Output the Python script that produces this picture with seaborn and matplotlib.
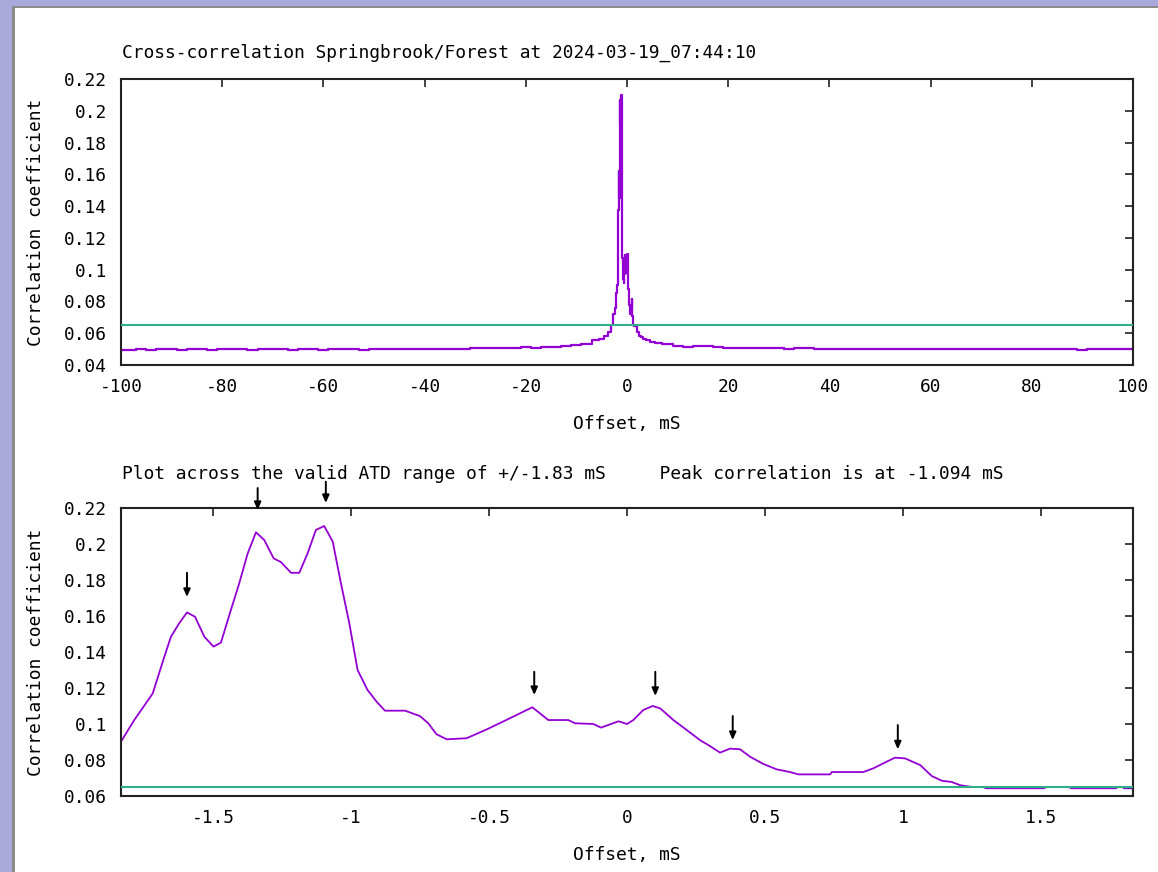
import numpy as np
import pandas as pd
import matplotlib
matplotlib.use("Agg")
import matplotlib.pyplot as plt
from matplotlib.patches import Rectangle
from matplotlib.ticker import FuncFormatter, MultipleLocator
import seaborn as sns

# ---- data ----
# zoomed plot across the valid ATD range (offset in ms, correlation)
atd_offset = [-1.833, -1.785, -1.718, -1.676, -1.652, -1.622, -1.594, -1.565, -1.531, -1.498,
              -1.471, -1.435, -1.405, -1.374, -1.344, -1.314, -1.28, -1.254, -1.217, -1.187,
              -1.157, -1.127, -1.097, -1.066, -1.036, -1.006, -0.976, -0.94,
              -0.907, -0.877, -0.804, -0.75, -0.72, -0.69, -0.653, -0.581, -0.508, -0.424,
              -0.343, -0.285, -0.213, -0.188, -0.122, -0.094, -0.031, 0.0,
              0.023, 0.059, 0.093, 0.12, 0.168, 0.216, 0.264, 0.30, 0.337, 0.373,
              0.409, 0.446, 0.494, 0.542, 0.591, 0.621, 0.736, 0.742, 0.856,
              0.893, 0.941, 0.971, 1.007, 1.062, 1.104, 1.14, 1.176, 1.207,
              1.25, 1.29, 1.30, 1.51, 1.52, 1.60, 1.61, 1.77, 1.78, 1.795, 1.80, 1.833]
atd_corr = [0.0902, 0.1022, 0.117, 0.1374, 0.1485, 0.156, 0.162, 0.1596, 0.1485, 0.143,
            0.1452, 0.1633, 0.178, 0.1948, 0.2065, 0.2022, 0.192, 0.190, 0.184, 0.184,
            0.1948, 0.2078, 0.210, 0.2013, 0.178, 0.156, 0.130, 0.1189,
            0.1124, 0.1074, 0.1074, 0.1044, 0.1004, 0.0943, 0.0915, 0.0921, 0.097, 0.1032,
            0.1093, 0.1022, 0.1022, 0.1004, 0.100, 0.098, 0.1015, 0.100,
            0.1022, 0.1078, 0.110, 0.1087, 0.1022, 0.0967, 0.0911, 0.0878, 0.0841, 0.0863,
            0.086, 0.0818, 0.0778, 0.0748, 0.0733, 0.072, 0.072, 0.0733, 0.0733,
            0.0754, 0.0791, 0.0813, 0.0809, 0.0772, 0.0711, 0.0685, 0.0678, 0.066,
            0.065, 0.065, 0.0643, 0.0643, 0.065, 0.065, 0.0643, 0.0643, 0.065, 0.065, 0.0643, 0.0643]

# full +/-100 ms plot: baseline either side plus the skirts around the peak
left_offset = list(range(-100, -13, 2))
left_corr = [0.0497, 0.0496, 0.0499, 0.0497, 0.0501, 0.0498, 0.0497, 0.0500, 0.0499, 0.0496,
             0.0498, 0.0500, 0.0499, 0.0497, 0.0498, 0.0501, 0.0499, 0.0497, 0.0500, 0.0498,
             0.0496, 0.0499, 0.0500, 0.0498, 0.0497, 0.0499, 0.0501, 0.0500, 0.0498, 0.0499,
             0.0502, 0.0500, 0.0501, 0.0503, 0.0502, 0.0504, 0.0506, 0.0505, 0.0507, 0.0509,
             0.0511, 0.0510, 0.0512, 0.0514]
skirt_l_offset = [-12, -10, -8, -6, -5, -4, -3.5, -3, -2.5, -2.2, -2.0]
skirt_l_corr = [0.0518, 0.0525, 0.0535, 0.0555, 0.0565, 0.0585, 0.061, 0.065, 0.072, 0.0758, 0.085]
skirt_r_offset = [2.2, 2.6, 3.0, 3.5, 4, 5, 6, 8, 10, 12, 14]
skirt_r_corr = [0.061, 0.0585, 0.0575, 0.0565, 0.0555, 0.0545, 0.0537, 0.053, 0.0522, 0.0515, 0.052]
right_offset = list(range(16, 101, 2))
right_corr = [0.0517, 0.0512, 0.0510, 0.0508, 0.0507, 0.0505, 0.0506, 0.0504, 0.0503, 0.0505,
              0.0504, 0.0502, 0.0501, 0.0503, 0.0502, 0.0500, 0.0501, 0.0502, 0.0500, 0.0499,
              0.0501, 0.0500, 0.0502, 0.0501, 0.0499, 0.0500, 0.0501, 0.0503, 0.0500, 0.0499,
              0.0500, 0.0501, 0.0499, 0.0500, 0.0502, 0.0500, 0.0499, 0.0497, 0.0499, 0.0500,
              0.0498, 0.0499, 0.0500]

threshold = 0.065

# peak markers (x, arrow tip, arrow tail)
peak_x = [-1.594, -1.338, -1.091, -0.336, 0.1025, 0.383, 0.981]
peak_tip = [0.1706, 0.2189, 0.2228, 0.1161, 0.1156, 0.0911, 0.0859]
peak_tail = [0.184, 0.2311, 0.2346, 0.129, 0.129, 0.1044, 0.0994]

title_top = "Cross-correlation Springbrook/Forest at 2024-03-19_07:44:10"
title_bottom = "Plot across the valid ATD range of +/-1.83 mS     Peak correlation is at -1.094 mS"

full = pd.DataFrame({
    "offset": left_offset + skirt_l_offset + atd_offset + skirt_r_offset + right_offset,
    "corr": left_corr + skirt_l_corr + atd_corr + skirt_r_corr + right_corr,
})
zoom = pd.DataFrame({"offset": atd_offset, "corr": atd_corr})

# ---- styling ----
sns.set_style("white")
plt.rcParams["font.family"] = ["DejaVu Sans Mono", "Liberation Mono"]
fs = 12.9
plt.rcParams["font.size"] = fs
plt.rcParams["text.color"] = "black"
plt.rcParams["axes.labelcolor"] = "black"
plt.rcParams["xtick.color"] = "black"
plt.rcParams["ytick.color"] = "black"
plt.rcParams["xtick.direction"] = "in"
plt.rcParams["ytick.direction"] = "in"

purple = "#9400d3"
green = "#2fae8c"

fig = plt.figure(figsize=(11.58, 8.72), dpi=100)
fig.patch.set_facecolor("white")

# window frame on left/top edge
fig.patches.append(Rectangle((0, 0), 12 / 1158, 1, transform=fig.transFigure,
                             facecolor="#a9a9dc", edgecolor="none"))
fig.patches.append(Rectangle((0, 1 - 6 / 872), 1, 6 / 872, transform=fig.transFigure,
                             facecolor="#a9a9dc", edgecolor="none"))
fig.patches.append(Rectangle((12 / 1158, 0), 3 / 1158, 1 - 6 / 872, transform=fig.transFigure,
                             facecolor="#8c8c8c", edgecolor="none"))
fig.patches.append(Rectangle((12 / 1158, 1 - 8 / 872), 1, 2 / 872, transform=fig.transFigure,
                             facecolor="#8c8c8c", edgecolor="none"))

ax1 = fig.add_axes([121 / 1158, 1 - 365 / 872, 1012 / 1158, 286 / 872])
ax2 = fig.add_axes([121 / 1158, 1 - 796 / 872, 1012 / 1158, 288 / 872])

gfmt = FuncFormatter(lambda v, p: ("%g" % v))

sns.lineplot(data=full, x="offset", y="corr", ax=ax1, color=purple, lw=1.6,
             estimator=None, sort=False, drawstyle="steps-mid", zorder=2)
ax1.axhline(threshold, color=green, lw=1.5, zorder=3)
ax1.set_xlim(-100, 100)
ax1.set_ylim(0.04, 0.22)
ax1.xaxis.set_major_locator(MultipleLocator(20))
ax1.yaxis.set_major_locator(MultipleLocator(0.02))

sns.lineplot(data=zoom, x="offset", y="corr", ax=ax2, color=purple, lw=1.3,
             estimator=None, sort=False, zorder=2)
ax2.axhline(threshold, color=green, lw=1.5, zorder=3)
ax2.set_xlim(-1.833, 1.833)
ax2.set_ylim(0.06, 0.22)
ax2.xaxis.set_major_locator(MultipleLocator(0.5))
ax2.yaxis.set_major_locator(MultipleLocator(0.02))

for x, tip, tail in zip(peak_x, peak_tip, peak_tail):
    ax2.annotate("", xy=(x, tip), xytext=(x, tail), annotation_clip=False,
                 arrowprops=dict(arrowstyle="-|>,head_length=0.5,head_width=0.22",
                                 color="black", lw=1.4, shrinkA=0, shrinkB=0,
                                 mutation_scale=9))

for ax in (ax1, ax2):
    ax.xaxis.set_major_formatter(gfmt)
    ax.yaxis.set_major_formatter(gfmt)
    ax.tick_params(axis="both", which="major", length=6, width=1.2, color="#222222",
                   top=True, right=True, labelsize=fs)
    ax.tick_params(axis="x", pad=9)
    ax.tick_params(axis="y", pad=10)
    for s in ax.spines.values():
        s.set_visible(True)
        s.set_linewidth(1.5)
        s.set_color("#222222")
    ax.set_xlabel("Offset, mS", fontsize=fs)
    ax.set_ylabel("Correlation coefficient", fontsize=fs)
    ax.grid(False)

ax1.xaxis.set_label_coords(0.5, -0.175)
ax2.xaxis.set_label_coords(0.5, -0.175)
ax1.yaxis.set_label_coords(-0.075, 0.5)
ax2.yaxis.set_label_coords(-0.075, 0.5)

fig.text(122 / 1158, 1 - 53 / 872, title_top, ha="left", va="center", fontsize=fs)
fig.text(122 / 1158, 1 - 474 / 872, title_bottom, ha="left", va="center", fontsize=fs)

fig.savefig("out.png", dpi=100)
